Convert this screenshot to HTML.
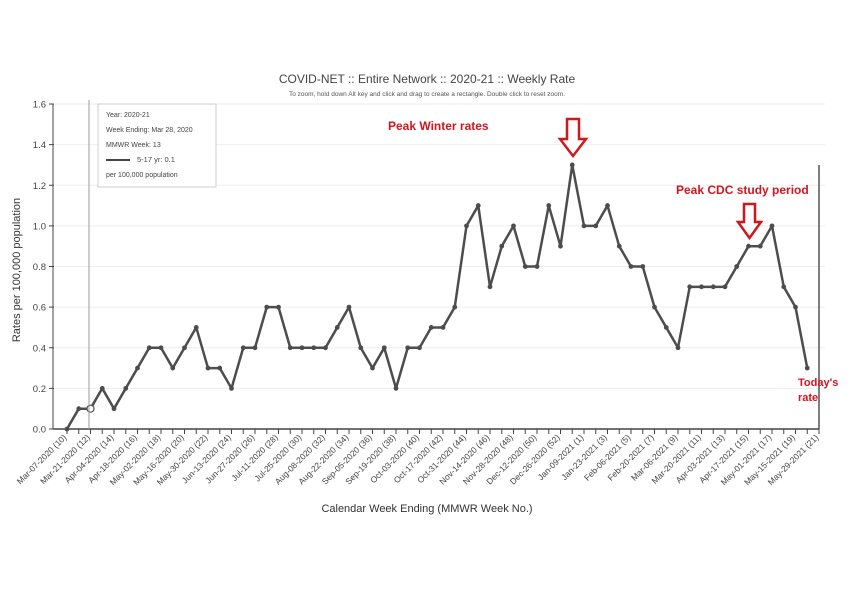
<!DOCTYPE html>
<html><head><meta charset="utf-8"><style>
body{margin:0;background:#fff;width:854px;height:584px;overflow:hidden;font-family:"Liberation Sans",sans-serif}
</style></head><body>
<svg id="c" width="854" height="584" xmlns="http://www.w3.org/2000/svg">
<text x="427" y="83" text-anchor="middle" font-size="12" fill="#444">COVID-NET :: Entire Network :: 2020-21 :: Weekly Rate</text>
<text x="427" y="96" text-anchor="middle" font-size="6.5" fill="#555">To zoom, hold down Alt key and click and drag to create a rectangle. Double click to reset zoom.</text>
<g id="grid"></g><g id="axes"></g><g id="series"></g>
<text transform="translate(20,270) rotate(-90)" text-anchor="middle" font-size="11" fill="#333">Rates per 100,000 population</text>
<text x="427" y="512" text-anchor="middle" font-size="11" fill="#333">Calendar Week Ending (MMWR Week No.)</text>
<line x1="89" y1="100" x2="89" y2="429" stroke="#999" stroke-width="1"/>
<line x1="819" y1="165" x2="819" y2="429" stroke="#555" stroke-width="1.5"/>
<g>
<rect x="98" y="104" width="118" height="83" fill="#fff" stroke="#ccc" stroke-width="1"/>
<text x="106" y="117" font-size="7" fill="#444">Year: 2020-21</text>
<text x="106" y="132" font-size="7" fill="#444">Week Ending: Mar 28, 2020</text>
<text x="106" y="147" font-size="7" fill="#444">MMWR Week: 13</text>
<line x1="106" y1="160" x2="130" y2="160" stroke="#444" stroke-width="2"/>
<text x="137" y="162" font-size="7.5" fill="#444">5-17 yr: 0.1</text>
<text x="106" y="177" font-size="7" fill="#444">per 100,000 population</text>
</g>
<text x="388" y="130" font-size="12" font-weight="bold" fill="#d0161e">Peak Winter rates</text>
<path d="M567,119 h12 v20 h7 l-13,17 l-13,-17 h7 z" fill="#fff" stroke="#d0161e" stroke-width="2.5"/>
<text x="676" y="194" font-size="12" font-weight="bold" fill="#d0161e">Peak CDC study period</text>
<path d="M744,204 h11 v18 h6 l-11.5,16 l-11.5,-16 h6 z" fill="#fff" stroke="#d0161e" stroke-width="2.5"/>
<text x="798" y="386" font-size="11" font-weight="bold" fill="#d0161e">Today's</text>
<text x="798" y="401" font-size="11" font-weight="bold" fill="#d0161e">rate</text>
</svg>
<script>
const values=[0,0.1,0.1,0.2,0.1,0.2,0.3,0.4,0.4,0.3,0.4,0.5,0.3,0.3,0.2,0.4,0.4,0.6,0.6,0.4,0.4,0.4,0.4,0.5,0.6,0.4,0.3,0.4,0.2,0.4,0.4,0.5,0.5,0.6,1.0,1.1,0.7,0.9,1.0,0.8,0.8,1.1,0.9,1.3,1.0,1.0,1.1,0.9,0.8,0.8,0.6,0.5,0.4,0.7,0.7,0.7,0.7,0.8,0.9,0.9,1.0,0.7,0.6,0.3];
const xLabels=["Mar-07-2020 (10)","Mar-21-2020 (12)","Apr-04-2020 (14)","Apr-18-2020 (16)","May-02-2020 (18)","May-16-2020 (20)","May-30-2020 (22)","Jun-13-2020 (24)","Jun-27-2020 (26)","Jul-11-2020 (28)","Jul-25-2020 (30)","Aug-08-2020 (32)","Aug-22-2020 (34)","Sep-05-2020 (36)","Sep-19-2020 (38)","Oct-03-2020 (40)","Oct-17-2020 (42)","Oct-31-2020 (44)","Nov-14-2020 (46)","Nov-28-2020 (48)","Dec-12-2020 (50)","Dec-26-2020 (52)","Jan-09-2021 (1)","Jan-23-2021 (3)","Feb-06-2021 (5)","Feb-20-2021 (7)","Mar-06-2021 (9)","Mar-20-2021 (11)","Apr-03-2021 (13)","Apr-17-2021 (15)","May-01-2021 (17)","May-15-2021 (19)","May-29-2021 (21)"];
const yTicks=[0,0.2,0.4,0.6,0.8,1.0,1.2,1.4,1.6];
const NS="http://www.w3.org/2000/svg";
const x0=67,x1=819,yBase=429,yTop=104;
const n=Math.max(values.length,xLabels.length*2-1);
function xs(i){return x0+i*(x1-x0)/(n-1);}
function ys(v){return yBase-(v/1.6)*(yBase-yTop);}
function mk(t,a,p){const e=document.createElementNS(NS,t);for(const k in a)e.setAttribute(k,a[k]);p.appendChild(e);return e;}
const grid=document.getElementById('grid'),axes=document.getElementById('axes'),ser=document.getElementById('series');
yTicks.forEach(v=>{
 if(v>0){const g=mk('line',{x1:55,x2:825,y1:ys(v),y2:ys(v),stroke:'#eee','stroke-width':1},grid);
 
 }
 const t=mk('text',{x:46,y:ys(v)+3.5,'text-anchor':'end','font-size':9.5,fill:'#444'},axes);
 t.textContent=v.toFixed(1);
 
 
 mk('line',{x1:49,x2:54,y1:ys(v),y2:ys(v),stroke:'#444'},axes);
});
const ya=mk('line',{x1:53,x2:53,y1:yTop,y2:yBase,stroke:'#444'},axes);


const xa=mk('line',{x1:53,x2:819,y1:yBase,y2:yBase,stroke:'#444','stroke-width':1.5},axes);


for(let i=0;i<n;i++){mk('line',{x1:xs(i),x2:xs(i),y1:yBase,y2:yBase+5,stroke:'#444'},axes);}
xLabels.forEach((l,j)=>{const x=xs(j*2),y=yBase+9;
 const t=mk('text',{x:x,y:y,'text-anchor':'end','font-size':8.5,fill:'#444',transform:`rotate(-45 ${x} ${y})`},axes);
 t.textContent=l;
 
 });
const pts=values.map((v,i)=>xs(i)+','+ys(v)).join(' ');
const pl=mk('polyline',{points:pts,fill:'none',stroke:'#4d4d4d','stroke-width':2.5,'stroke-linejoin':'round'},ser);


values.forEach((v,i)=>{const c=mk('circle',{cx:xs(i),cy:ys(v),r:i==2?3.5:1.8,fill:i==2?'#fff':'#4d4d4d',stroke:'#4d4d4d','stroke-width':1.2},ser);
 
 });
</script>
</body></html>
